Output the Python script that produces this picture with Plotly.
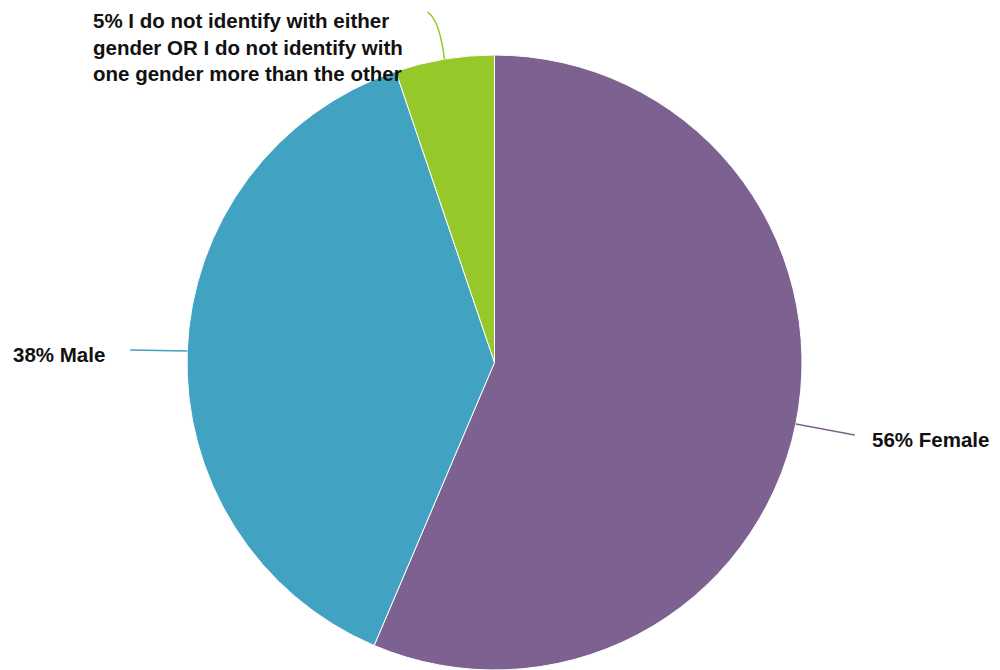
import math
import plotly.graph_objects as go

# Data
labels = ["Female", "Male", "I do not identify with either gender OR I do not identify with one gender more than the other"]
values = [56.4, 38.4, 5.2]
label_texts = ["56% Female", "38% Male",
               "5% I do not identify with either<br>gender OR I do not identify with<br>one gender more than the other"]
colors = ["#7D6190", "#41A2C2", "#97C82A"]

OFF = 8  # default page body margin in the browser
W, H = 1000 - 2 * OFF, 670
ML, MT = 187 - OFF, 55 - OFF
PW = PH = 615
MR, MB = W - ML - PW, H - MT - PH
R = min(PW, PH) / 2
CX, CY = ML + PW / 2, MT + PH / 2


def to_paper(px, py):
    return (px - ML) / PW, (H - MB - py) / PH


fig = go.Figure(go.Pie(
    labels=labels, values=values, sort=False, direction="clockwise", rotation=0,
    marker=dict(colors=colors, line=dict(color="white", width=1)),
    textinfo="none", hoverinfo="label+percent", showlegend=False,
))

# leader style per slice: (end offset dx, dy), text anchor offset, xanchor, yanchor
styles = [
    dict(end=(59, 11), txt=(74, 16), xanchor="left", yanchor="middle", curve=False),
    dict(end=(-57, -1), txt=(-80, 4), xanchor="right", yanchor="middle", curve=False),
    dict(end=(-17, -47), txt=(-353, -52), xanchor="left", yanchor="top", curve=True),
]

total = sum(values)
cum = 0
shapes, annotations = [], []
for v, txt, col, st in zip(values, label_texts, colors, styles):
    mid = (cum + v / 2) / total * 2 * math.pi
    cum += v
    ex, ey = CX + R * math.sin(mid), CY - R * math.cos(mid)
    x0, y0 = to_paper(ex, ey)
    x1, y1 = to_paper(ex + st["end"][0], ey + st["end"][1])
    if st["curve"]:
        qx, qy = to_paper(ex + st["end"][0] * 0.3, ey + st["end"][1] * 0.85)
        shapes.append(dict(type="path", xref="paper", yref="paper",
                           path=f"M {x0},{y0} Q {qx},{qy} {x1},{y1}",
                           line=dict(color=col, width=1.5)))
    else:
        shapes.append(dict(type="line", xref="paper", yref="paper",
                           x0=x0, y0=y0, x1=x1, y1=y1, line=dict(color=col, width=1.5)))
    tx, ty = to_paper(ex + st["txt"][0], ey + st["txt"][1])
    annotations.append(dict(text="<b>" + txt.replace("<br>", "</b><br><b>") + "</b>",
                            x=tx, y=ty, xref="paper", yref="paper",
                            xanchor=st["xanchor"], yanchor=st["yanchor"], align="left",
                            showarrow=False,
                            font=dict(family="Liberation Sans, Arial, sans-serif",
                                      size=20.5, color="#111111")))

fig.update_layout(
    width=W, height=H, margin=dict(l=ML, r=MR, t=MT, b=MB, autoexpand=False),
    paper_bgcolor="white", plot_bgcolor="white",
    shapes=shapes, annotations=annotations,
    font=dict(family="Liberation Sans, Arial, sans-serif"),
)
fig.write_html("out.html")
